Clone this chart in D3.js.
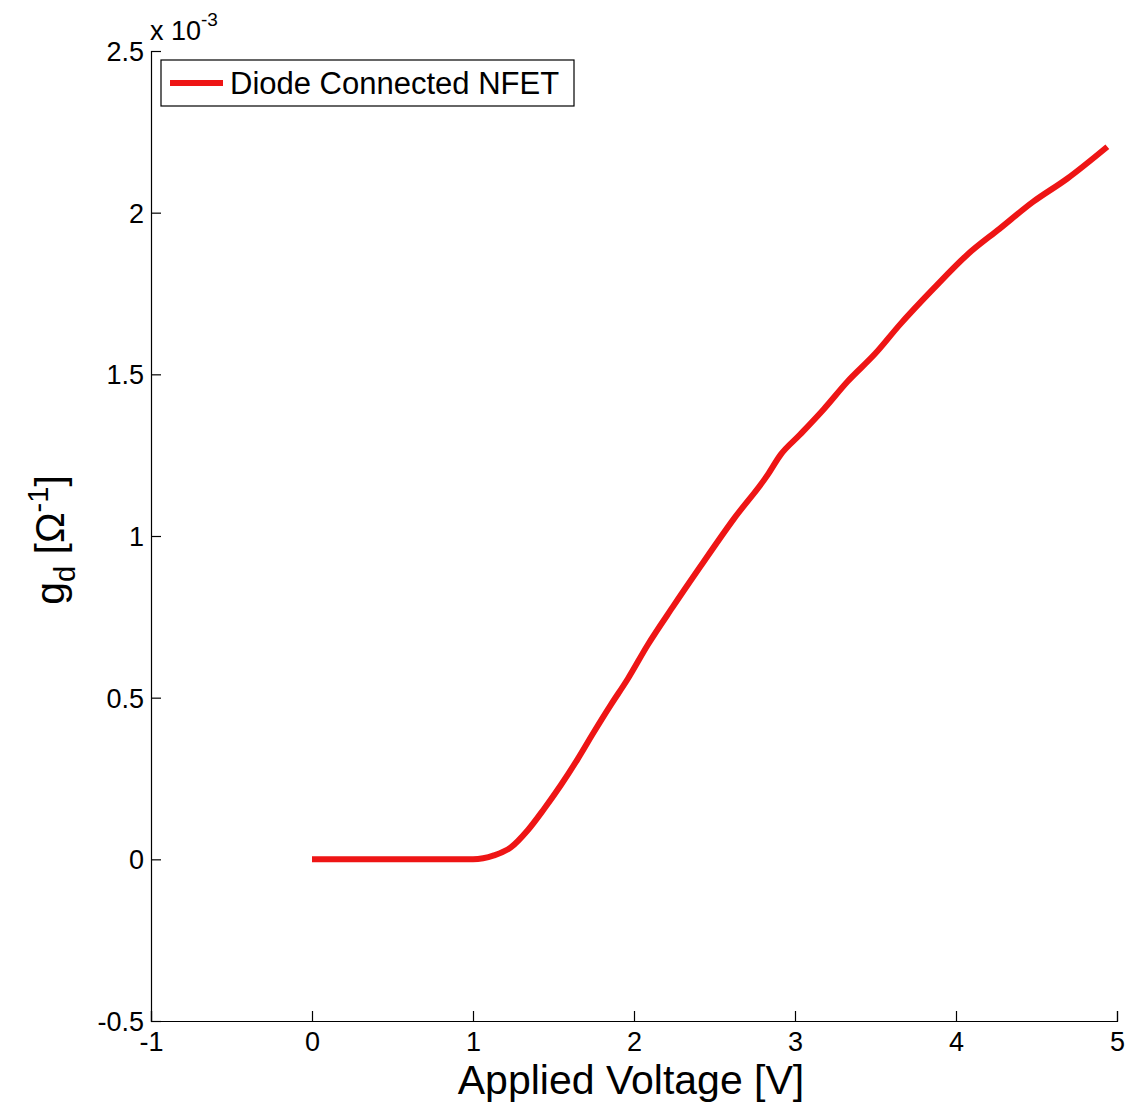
<!DOCTYPE html>
<html>
<head>
<meta charset="utf-8">
<script src="https://cdn.jsdelivr.net/npm/d3@7"></script>
<style>
  body { margin: 0; background: #fff; }
  text { font-family: "Liberation Sans", Arial, sans-serif; fill: #000; }
</style>
</head>
<body>
<svg width="1132" height="1103"></svg>
<script>
// applied voltage [V] and conductance [x 1e-3 1/ohm]
var voltage = [0, 0.5, 1.0, 1.13, 1.235, 1.34, 1.44, 1.545, 1.65, 1.75, 1.855, 1.96, 2.085, 2.24, 2.41, 2.62, 2.83, 2.91, 3.03, 3.18, 3.325, 3.5, 3.65, 3.86, 4.07, 4.27, 4.48, 4.69, 4.94];
var gd      = [0, 0,   0,   0.012, 0.037, 0.090, 0.155, 0.229, 0.310, 0.393, 0.477, 0.557, 0.663, 0.78, 0.904, 1.053, 1.189, 1.251, 1.313, 1.393, 1.477, 1.565, 1.653, 1.765, 1.870, 1.950, 2.034, 2.105, 2.204];
var xTicks = [-1, 0, 1, 2, 3, 4, 5];
var yTicks = [-0.5, 0, 0.5, 1, 1.5, 2, 2.5];
var seriesName = "Diode Connected NFET";

var svg = d3.select("svg"),
    margin = {left: 151, right: 15, top: 51, bottom: 82},
    width = +svg.attr("width") - margin.left - margin.right,
    height = +svg.attr("height") - margin.top - margin.bottom;

var x = d3.scaleLinear().domain([-1, 5]).range([0, width]);
var y = d3.scaleLinear().domain([-0.5, 2.5]).range([height, 0]);

// plain hyphen for negatives, like the original
var fmt = function(d) { return String(d); };

var g = svg.append("g").attr("transform", "translate(" + margin.left + "," + margin.top + ")");

var xAxis = g.append("g")
    .attr("transform", "translate(0," + height + ")")
    .call(d3.axisBottom(x).tickValues(xTicks).tickSize(-10).tickPadding(11).tickFormat(fmt));
var yAxis = g.append("g")
    .call(d3.axisLeft(y).tickValues(yTicks).tickSize(-10).tickPadding(7).tickFormat(fmt));

[xAxis, yAxis].forEach(function(a) {
  a.select(".domain").attr("stroke", "#000").attr("stroke-width", 1.2);
  a.selectAll(".tick line").attr("stroke", "#000").attr("stroke-width", 1.2);
  a.selectAll(".tick text").style("font-size", "27px").attr("fill", "#000");
});
yAxis.selectAll(".tick text").attr("dy", "0.35em");

var line = d3.line()
    .x(function(d, i) { return x(voltage[i]); })
    .y(function(d) { return y(d); })
    .curve(d3.curveMonotoneX);

g.append("path")
    .datum(gd)
    .attr("fill", "none")
    .attr("stroke", "#ee1515")
    .attr("stroke-width", 6)
    .attr("stroke-linejoin", "round")
    .attr("d", line);

// exponent label
var ex = svg.append("text").attr("x", 150).attr("y", 40).style("font-size", "27px");
ex.append("tspan").text("x 10");
ex.append("tspan").attr("dy", -14).style("font-size", "19px").text("-3");

// legend
var leg = svg.append("g").attr("transform", "translate(161,60)");
leg.append("rect").attr("width", 413).attr("height", 46)
    .attr("fill", "#fff").attr("stroke", "#000").attr("stroke-width", 1.2);
leg.append("line").attr("x1", 9).attr("x2", 62).attr("y1", 23).attr("y2", 23)
    .attr("stroke", "#ee1515").attr("stroke-width", 6);
leg.append("text").attr("x", 69).attr("y", 34).style("font-size", "31px").text(seriesName);

// axis titles
svg.append("text")
    .attr("x", 631).attr("y", 1094)
    .attr("text-anchor", "middle")
    .style("font-size", "41px")
    .text("Applied Voltage [V]");

var yl = svg.append("text")
    .attr("transform", "translate(64,540) rotate(-90)")
    .attr("text-anchor", "middle")
    .style("font-size", "41px");
yl.append("tspan").text("g");
yl.append("tspan").attr("dy", 11).style("font-size", "29px").text("d");
yl.append("tspan").attr("dy", -11).text(" [\u03A9");
yl.append("tspan").attr("dy", -16).style("font-size", "29px").text("-1");
yl.append("tspan").attr("dy", 16).text("]");
</script>
</body>
</html>
